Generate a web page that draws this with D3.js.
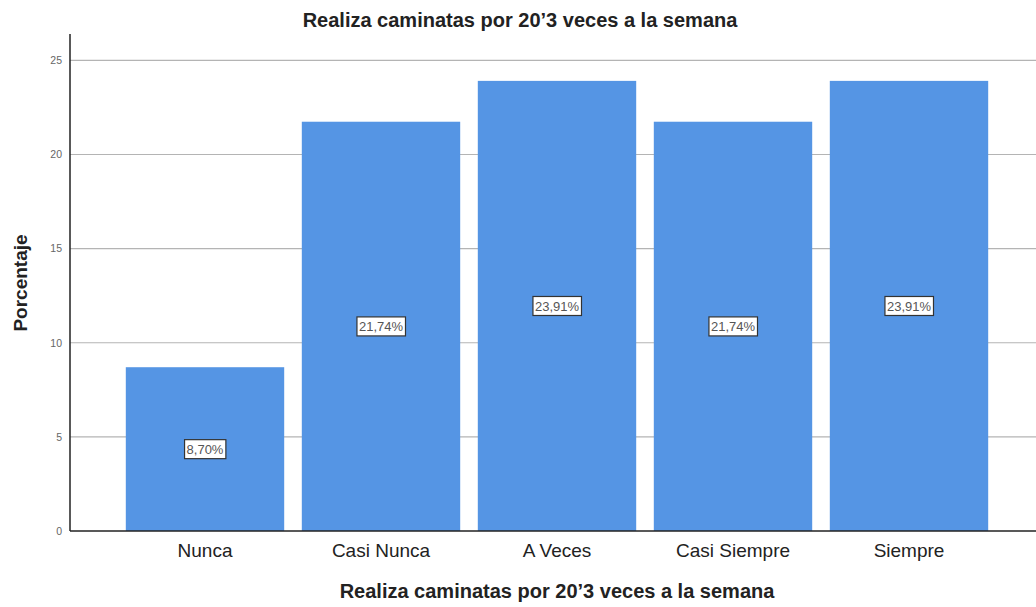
<!DOCTYPE html>
<html>
<head>
<meta charset="utf-8">
<script src="https://cdn.jsdelivr.net/npm/d3@7"></script>
<style>
  body { margin: 0; background: #fff; }
  svg { display: block; font-family: "Liberation Sans", Arial, sans-serif; }
</style>
</head>
<body>
<div id="visContainer"></div>
<script>
'use strict';

// categories and their percentages
const categories = ["Nunca", "Casi Nunca", "A Veces", "Casi Siempre", "Siempre"];
const percentages = [8.70, 21.74, 23.91, 21.74, 23.91];
const valueLabels = ["8,70%", "21,74%", "23,91%", "21,74%", "23,91%"];
const yTicks = [0, 5, 10, 15, 20, 25];

const chartTitle = "Realiza caminatas por 20\u20193 veces a la semana";

var svg = d3.select('#visContainer')
    .append('svg')
    .attr('width', 1036)
    .attr('height', 607);

// plot area edges
var plot = {left: 70, right: 1036, top: 34, bottom: 531};

var x = d3.scaleBand()
    .domain(categories)
    .range([117, 997])
    .paddingInner(0.1)
    .paddingOuter(0.05);

var y = d3.scaleLinear()
    .domain([0, 26.4])
    .range([plot.bottom, plot.top]);

// gridlines
svg.append('g')
    .selectAll('line')
    .data(yTicks.filter(function(d) { return d > 0; }))
    .enter().append('line')
    .attr('x1', plot.left)
    .attr('x2', plot.right)
    .attr('y1', function(d) { return y(d); })
    .attr('y2', function(d) { return y(d); })
    .attr('stroke', '#b4b4b4')
    .attr('stroke-width', 1.2);

// bars
svg.append('g')
    .selectAll('rect')
    .data(percentages)
    .enter().append('rect')
    .attr('x', function(d, i) { return x(categories[i]); })
    .attr('y', function(d) { return y(d); })
    .attr('width', x.bandwidth())
    .attr('height', function(d) { return plot.bottom - y(d); })
    .attr('fill', '#5595e4');

// y axis
var yAxis = svg.append('g')
    .attr('transform', 'translate(' + plot.left + ',0)')
    .call(d3.axisLeft(y).tickValues(yTicks).tickSize(0).tickPadding(8));
yAxis.select('.domain').remove();
yAxis.selectAll('text')
    .attr('fill', '#666')
    .style('font-size', '10.5px');
svg.append('line')
    .attr('x1', plot.left).attr('x2', plot.left)
    .attr('y1', plot.top).attr('y2', plot.bottom)
    .attr('stroke', '#222').attr('stroke-width', 1.5);

// x axis
var xAxis = svg.append('g')
    .attr('transform', 'translate(0,' + plot.bottom + ')')
    .call(d3.axisBottom(x).tickSize(0).tickPadding(12.5));
xAxis.select('.domain').remove();
xAxis.selectAll('text')
    .attr('fill', '#222')
    .style('font-size', '19px');
svg.append('line')
    .attr('x1', plot.left).attr('x2', plot.right)
    .attr('y1', plot.bottom).attr('y2', plot.bottom)
    .attr('stroke', '#222').attr('stroke-width', 1.5);

// boxed value labels in the middle of each bar
var labels = svg.append('g')
    .selectAll('g')
    .data(percentages)
    .enter().append('g')
    .attr('transform', function(d, i) {
        return 'translate(' + (x(categories[i]) + x.bandwidth() / 2) + ',' + y(d / 2) + ')';
    });
labels.append('text')
    .attr('text-anchor', 'middle')
    .attr('dy', '0.35em')
    .style('font-size', '13px')
    .attr('fill', '#555')
    .text(function(d, i) { return valueLabels[i]; });
labels.each(function() {
    var g = d3.select(this);
    var b = g.select('text').node().getBBox();
    g.insert('rect', 'text')
        .attr('x', b.x - 2)
        .attr('y', b.y - 2)
        .attr('width', b.width + 4)
        .attr('height', b.height + 4)
        .attr('fill', '#fff')
        .attr('stroke', '#333')
        .attr('stroke-width', 1.2);
});

// title
svg.append('text')
    .attr('x', 520)
    .attr('y', 27)
    .attr('text-anchor', 'middle')
    .style('font-size', '20px')
    .style('font-weight', 'bold')
    .attr('fill', '#222')
    .text(chartTitle);

// axis titles
svg.append('text')
    .attr('x', 557)
    .attr('y', 598)
    .attr('text-anchor', 'middle')
    .style('font-size', '20px')
    .style('font-weight', 'bold')
    .attr('fill', '#222')
    .text(chartTitle);

svg.append('text')
    .attr('transform', 'translate(27,283) rotate(-90)')
    .attr('text-anchor', 'middle')
    .style('font-size', '19px')
    .style('font-weight', 'bold')
    .attr('fill', '#222')
    .text('Porcentaje');
</script>
</body>
</html>
